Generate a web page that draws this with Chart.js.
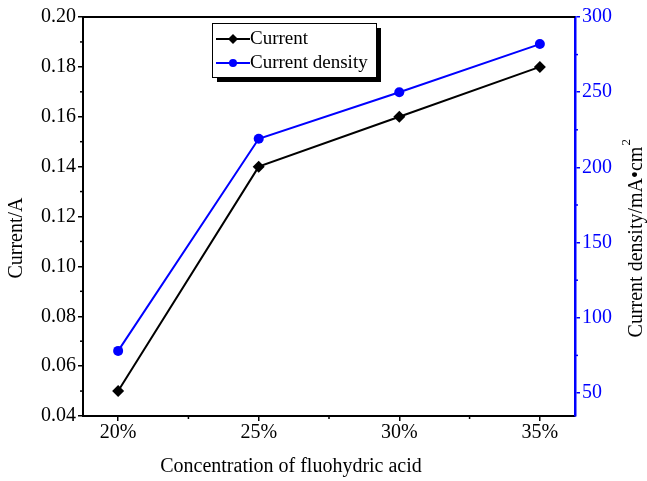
<!DOCTYPE html>
<html>
<head>
<meta charset="utf-8">
<script src="https://cdn.jsdelivr.net/npm/chart.js@4.4.0/dist/chart.umd.min.js"></script>
<style>
  html, body { margin: 0; padding: 0; background: #fff; }
  #wrap { width: 647px; height: 481px; position: relative; }
</style>
</head>
<body>
<div id="wrap"><canvas id="chart"></canvas></div>
<script>
// data
const concentration = [20, 25, 30, 35];          // % HF
const currentA = [0.05, 0.14, 0.16, 0.18];        // Current/A
const currentDensity = [78, 219, 250, 282];       // mA/cm2
const xTicks = [20, 25, 30, 35];
const leftTicks = [0.04, 0.06, 0.08, 0.10, 0.12, 0.14, 0.16, 0.18, 0.20];
const rightTicks = [50, 100, 150, 200, 250, 300];

const FONT = 'Liberation Serif, Times New Roman, serif';
const BLUE = '#0000ff';

const toPts = (ys) => concentration.map((x, i) => ({ x: x, y: ys[i] }));

// minor ticks, axis titles, top frame and the framed legend
const decor = {
    id: 'decor',
    afterDraw(chart) {
        const ctx = chart.ctx;
        const a = chart.chartArea;
        const sx = chart.scales.x, sl = chart.scales.y, sr = chart.scales.y2;
        ctx.save();

        // top frame line
        ctx.strokeStyle = '#000';
        ctx.lineWidth = 2;
        ctx.beginPath();
        ctx.moveTo(a.left - 1, a.top);
        ctx.lineTo(a.right, a.top);
        ctx.stroke();

        // minor ticks
        ctx.lineWidth = 1.5;
        [22.5, 27.5, 32.5].forEach(v => {
            const px = sx.getPixelForValue(v);
            ctx.beginPath(); ctx.moveTo(px, a.bottom); ctx.lineTo(px, a.bottom + 3); ctx.stroke();
        });
        [0.05, 0.07, 0.09, 0.11, 0.13, 0.15, 0.17, 0.19].forEach(v => {
            const py = sl.getPixelForValue(v);
            ctx.beginPath(); ctx.moveTo(a.left, py); ctx.lineTo(a.left - 3, py); ctx.stroke();
        });
        ctx.strokeStyle = BLUE;
        [75, 125, 175, 225, 275].forEach(v => {
            const py = sr.getPixelForValue(v);
            ctx.beginPath(); ctx.moveTo(a.right, py); ctx.lineTo(a.right + 3, py); ctx.stroke();
        });

        // axis titles
        ctx.fillStyle = '#000';
        ctx.font = '20px ' + FONT;
        ctx.textAlign = 'center';
        ctx.textBaseline = 'middle';
        ctx.fillText('Concentration of fluohydric acid', 291, 467);

        ctx.save();
        ctx.translate(17, 238);
        ctx.rotate(-Math.PI / 2);
        ctx.fillText('Current/A', 0, 0);
        ctx.restore();

        ctx.save();
        ctx.translate(637, 238);
        ctx.rotate(-Math.PI / 2);
        const main = 'Current density/mA\u2022cm';
        const w = ctx.measureText(main).width;
        ctx.textAlign = 'left';
        ctx.fillText(main, -w / 2 - 4, 0);
        ctx.font = '13px ' + FONT;
        ctx.fillText('2', w / 2 - 3, -10);
        ctx.restore();

        // legend box with shadow
        const bx = 212, by = 23, bw = 164, bh = 54;
        ctx.fillStyle = '#000';
        ctx.fillRect(bx + 5, by + 5, bw, bh);
        ctx.fillStyle = '#fff';
        ctx.fillRect(bx, by, bw, bh);
        ctx.strokeStyle = '#000';
        ctx.lineWidth = 1;
        ctx.strokeRect(bx + 0.5, by + 0.5, bw, bh);

        chart.data.datasets.forEach((ds, i) => {
            const cy = by + 16 + i * 24;
            ctx.strokeStyle = ds.borderColor;
            ctx.lineWidth = 2;
            ctx.beginPath(); ctx.moveTo(bx + 4, cy); ctx.lineTo(bx + 38, cy); ctx.stroke();
            ctx.fillStyle = ds.borderColor;
            Chart.helpers.drawPoint(ctx, { pointStyle: ds.pointStyle, radius: ds.pointRadius - 1, borderWidth: 0 }, bx + 21, cy);
            ctx.fillStyle = '#000';
            ctx.font = '19px ' + FONT;
            ctx.textAlign = 'left';
            ctx.fillText(ds.label, bx + 38, cy);
        });

        ctx.restore();
    }
};

new Chart(document.getElementById('chart'), {
    type: 'line',
    data: {
        datasets: [{
            label: 'Current',
            data: toPts(currentA),
            yAxisID: 'y',
            borderColor: '#000',
            backgroundColor: '#000',
            borderWidth: 2,
            pointStyle: 'rectRot',
            pointRadius: 6,
            pointBorderWidth: 0
        }, {
            label: 'Current density',
            data: toPts(currentDensity),
            yAxisID: 'y2',
            borderColor: BLUE,
            backgroundColor: BLUE,
            borderWidth: 2,
            pointStyle: 'circle',
            pointRadius: 5,
            pointBorderWidth: 0
        }]
    },
    options: {
        responsive: true,
        maintainAspectRatio: false,
        animation: false,
        layout: { padding: { top: 17, left: 0, right: 0, bottom: 0 } },
        plugins: { legend: { display: false }, tooltip: { enabled: false } },
        scales: {
            x: {
                type: 'linear',
                min: 18.75,
                max: 36.25,
                afterBuildTicks: (s) => { s.ticks = xTicks.map(v => ({ value: v })); },
                afterFit: (s) => { s.height = 65; },
                grid: { drawOnChartArea: false, drawTicks: true, tickLength: 5, color: '#000', lineWidth: 1.5 },
                border: { display: true, color: '#000', width: 2 },
                ticks: {
                    color: '#000',
                    font: { family: FONT, size: 20 },
                    padding: 0,
                    maxRotation: 0,
                    callback: (v) => v + '%'
                }
            },
            y: {
                position: 'left',
                min: 0.04,
                max: 0.20,
                afterBuildTicks: (s) => { s.ticks = leftTicks.map(v => ({ value: v })); },
                afterFit: (s) => { s.width = 83; },
                grid: { drawOnChartArea: false, drawTicks: true, tickLength: 5, color: '#000', lineWidth: 1.5 },
                border: { display: true, color: '#000', width: 2 },
                ticks: {
                    color: '#000',
                    font: { family: FONT, size: 20 },
                    padding: 2,
                    callback: (v) => v.toFixed(2)
                }
            },
            y2: {
                position: 'right',
                min: 34.7,
                max: 300,
                afterBuildTicks: (s) => { s.ticks = rightTicks.map(v => ({ value: v })); },
                afterFit: (s) => { s.width = 72; },
                grid: { drawOnChartArea: false, drawTicks: true, tickLength: 5, color: BLUE, lineWidth: 1.5 },
                border: { display: true, color: BLUE, width: 2.5 },
                ticks: {
                    color: BLUE,
                    font: { family: FONT, size: 20 },
                    padding: 2,
                    callback: (v) => String(v)
                }
            }
        }
    },
    plugins: [decor]
});
</script>
</body>
</html>
